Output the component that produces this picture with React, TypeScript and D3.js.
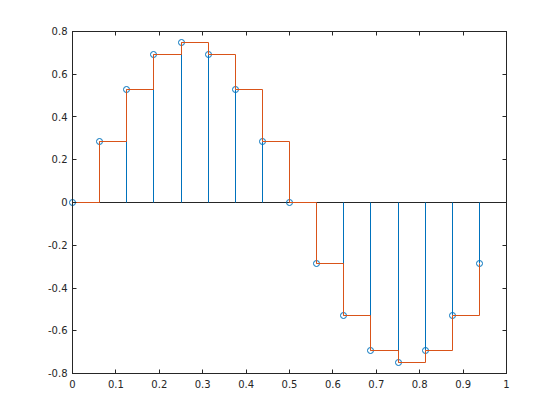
import React from "react";
import * as d3 from "d3";

const xs = [0, 0.0625, 0.125, 0.1875, 0.25, 0.3125, 0.375, 0.4375, 0.5, 0.5625, 0.625, 0.6875, 0.75, 0.8125, 0.875, 0.9375];
const ys = [0, 0.287, 0.530, 0.693, 0.75, 0.693, 0.530, 0.287, 0, -0.287, -0.530, -0.693, -0.75, -0.693, -0.530, -0.287];
const xTicks = [0, 0.1, 0.2, 0.3, 0.4, 0.5, 0.6, 0.7, 0.8, 0.9, 1];
const yTicks = [-0.8, -0.6, -0.4, -0.2, 0, 0.2, 0.4, 0.6, 0.8];

const W = 560, H = 420;
const L = 72.5, R = 506.5, T = 31.5, B = 373.5;
const AX = "#262626";
const BLUE = "#0072BD";
const ORANGE = "#D95319";
const FONT = "'DejaVu Sans', sans-serif";

export default function App() {
  const x = d3.scaleLinear().domain([0, 1]).range([L, R]);
  const y = d3.scaleLinear().domain([-0.8, 0.8]).range([B, T]);
  const px = (v: number) => Math.round(x(v) - 0.5) + 0.5;
  const py = (v: number) => Math.round(y(v) - 0.5) + 0.5;
  const pts: [number, number][] = xs.map((v, i) => [v, ys[i]]);
  const stairs = d3.line<[number, number]>().x(d => px(d[0])).y(d => py(d[1])).curve(d3.curveStepAfter)(pts) || "";
  const tl = 4;
  return (
    <svg width={W} height={H} style={{ position: "absolute", left: 0, top: 0, background: "#fff" }}>
      <rect x={0} y={0} width={W} height={H} fill="#fff" />
      {/* baseline */}
      <line x1={L} x2={R} y1={py(0)} y2={py(0)} stroke={AX} strokeWidth={1} />
      {/* stems */}
      {pts.map((p, i) => (
        <line key={"s" + i} x1={px(p[0])} x2={px(p[0])} y1={py(0)} y2={py(p[1])} stroke={BLUE} strokeWidth={1} />
      ))}
      {pts.map((p, i) => (
        <circle key={"m" + i} cx={px(p[0])} cy={py(p[1])} r={3} fill="none" stroke={BLUE} strokeWidth={1} />
      ))}
      <path d={stairs} fill="none" stroke={ORANGE} strokeWidth={1} />
      {/* axes box */}
      <rect x={L} y={T} width={R - L} height={B - T} fill="none" stroke={AX} strokeWidth={1} />
      {xTicks.map((t, i) => (
        <g key={"xt" + i}>
          <line x1={px(t)} x2={px(t)} y1={B} y2={B - tl} stroke={AX} />
          <line x1={px(t)} x2={px(t)} y1={T} y2={T + tl} stroke={AX} />
          <text x={x(t)} y={B + 14} textAnchor="middle" fontFamily={FONT} fontSize={10} fill={AX}>{String(t)}</text>
        </g>
      ))}
      {yTicks.map((t, i) => (
        <g key={"yt" + i}>
          <line x1={L} x2={L + tl} y1={py(t)} y2={py(t)} stroke={AX} />
          <line x1={R} x2={R - tl} y1={py(t)} y2={py(t)} stroke={AX} />
          <text x={L - 5} y={y(t)} dy="0.35em" textAnchor="end" fontFamily={FONT} fontSize={10} fill={AX}>{String(Math.round(t * 10) / 10)}</text>
        </g>
      ))}
    </svg>
  );
}
